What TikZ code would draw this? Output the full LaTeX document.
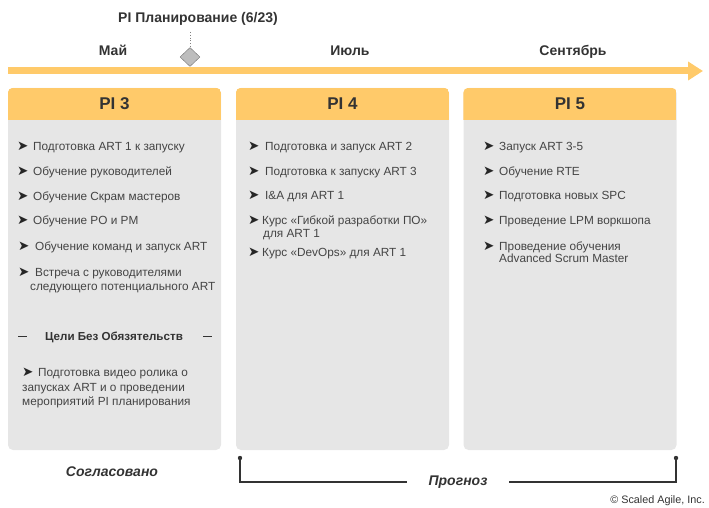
\documentclass[tikz,border=0pt]{standalone}
\usepackage{fontspec}
\setmainfont{Liberation Sans}
\newfontfamily\symfont{DejaVu Sans}
\usetikzlibrary{positioning, arrows.meta, shapes.geometric}

\definecolor{piorange}{HTML}{FFCA6A}
\definecolor{pigray}{HTML}{E6E6E6}
\definecolor{pitext}{HTML}{333333}
\definecolor{itemtext}{HTML}{444444}
\definecolor{milestone}{HTML}{BDBDBD}

% bullet with a fixed-width box
\newcommand{\bul}[1][16pt]{\makebox[#1][l]{\textcolor{black!85}{\symfont\fontsize{13.5}{13.5}\selectfont ➤}}}

\begin{document}
\begin{tikzpicture}[x=1pt, y=-1pt,
  panel/.style={rectangle, rounded corners=5pt, fill=pigray, inner sep=0pt,
                minimum width=213pt, minimum height=362pt},
  pititle/.style={font=\fontsize{17}{17}\selectfont\bfseries, text=pitext,
                  anchor=base, inner sep=0pt},
  month/.style={font=\fontsize{14}{14}\selectfont\bfseries, text=pitext,
                anchor=base, inner sep=0pt},
  item/.style={font=\fontsize{11.8}{11.8}\selectfont, text=itemtext,
               anchor=base west, inner sep=0pt},
  goal/.style={font=\fontsize{11.6}{11.6}\selectfont\bfseries, text=pitext,
               anchor=base, inner sep=0pt},
  status/.style={font=\fontsize{14}{14}\selectfont\bfseries\itshape,
                 text=pitext, anchor=base},
  timeline/.style={line width=7pt, piorange, -{Triangle[length=15pt,width=18pt]}},
  mstone/.style={diamond, draw=black!55, fill=milestone, inner sep=0pt,
                 minimum width=20pt, minimum height=19pt},
  bracket/.style={draw=pitext, line width=1.2pt}
]
\useasboundingbox (0,0) rectangle (709,508);

% timeline
\coordinate (tl0) at (8,71);
\coordinate (tl1) at (703,71);
\draw[timeline] (tl0) -- (tl1);

\node[month] (plan) at (198,23) {PI Планирование (6/23)};
\node[mstone] (pip) at (190,57) {};
\draw[dotted, black!50, line width=0.8pt] (190,32) -- (pip.north);

\node[month] (may) at (113,56) {Май};
\node[month] (jul) at (350,56) {Июль};
\node[month] (sep) at (573,56) {Сентябрь};

% PI columns
\node[panel] (pi3) at (114.5,269) {};
\node[panel] (pi4) at (342.5,269) {};
\node[panel] (pi5) at (570,269) {};

\foreach \p in {pi3,pi4,pi5} {
  \begin{scope}
    \clip[rounded corners=5pt] (\p.north west) rectangle (\p.south east);
    \fill[piorange] (\p.north west) rectangle ([yshift=-32pt]\p.north east);
  \end{scope}
}

\node[pititle] (t3) at (114.5,110) {PI 3};
\node[pititle] (t4) at (342.5,110) {PI 4};
\node[pititle] (t5) at (570,110) {PI 5};

% PI 3
\foreach \x/\y/\t [count=\i] in {
    17/150/{\bul Подготовка ART 1 к запуску},
    17/175/{\bul Обучение руководителей},
    17/200/{\bul Обучение Скрам мастеров},
    17/224/{\bul Обучение PO и PM},
    18/250/{\bul[17pt]Обучение команд и запуск ART},
    18/276/{\bul[17pt]Встреча с руководителями},
    30/290/{следующего потенциального ART}}
  \node[item] (a\i) at (\x,\y) {\t};

\node[goal] (goal) at (114,340) {Цели Без Обязятельств};
\draw[pitext, line width=0.9pt] (18,336.5) -- (27,336.5);
\draw[pitext, line width=0.9pt] (203,336.5) -- (212,336.5);

\foreach \x/\y/\t [count=\i] in {
    22/376/{\bul Подготовка видео ролика о},
    22/391/{запусках ART и о проведении},
    22/405/{мероприятий PI планирования}}
  \node[item] (g\i) at (\x,\y) {\t};

% PI 4
\foreach \x/\y/\t [count=\i] in {
    248/150/{\bul[17pt]Подготовка и запуск ART 2},
    248/175/{\bul[17pt]Подготовка к запуску ART 3},
    248/199/{\bul[17pt]I\&A для ART 1},
    248/224/{\bul[14pt]Курс «Гибкой разработки ПО»},
    263/237/{для ART 1},
    248/256/{\bul[14pt]Курс «DevOps» для ART 1}}
  \node[item] (b\i) at (\x,\y) {\t};

% PI 5
\foreach \x/\y/\t [count=\i] in {
    483/150/{\bul Запуск ART 3-5},
    483/175/{\bul Обучение RTE},
    483/199/{\bul Подготовка новых SPC},
    483/224/{\bul Проведение LPM воркшопа},
    483/250/{\bul Проведение обучения},
    499/262/{Advanced Scrum Master}}
  \node[item] (c\i) at (\x,\y) {\t};

% below the columns
\node[status] (agreed) at (112,476) {Согласовано};

\coordinate (fc0) at (240,458);
\coordinate (fc1) at (676,458);
\node[status, anchor=center, inner xsep=21pt] (forecast) at (458,482) {Прогноз};
\draw[bracket] (fc0) |- (forecast.west);
\draw[bracket] (fc1) |- (forecast.east);
\fill[pitext] (fc0) circle (2.2pt);
\fill[pitext] (fc1) circle (2.2pt);

\node[font=\fontsize{10.8}{10.8}\selectfont, text=pitext, anchor=base east,
      inner sep=0pt] (copy) at (705,503) {© Scaled Agile, Inc.};

\end{tikzpicture}
\end{document}
